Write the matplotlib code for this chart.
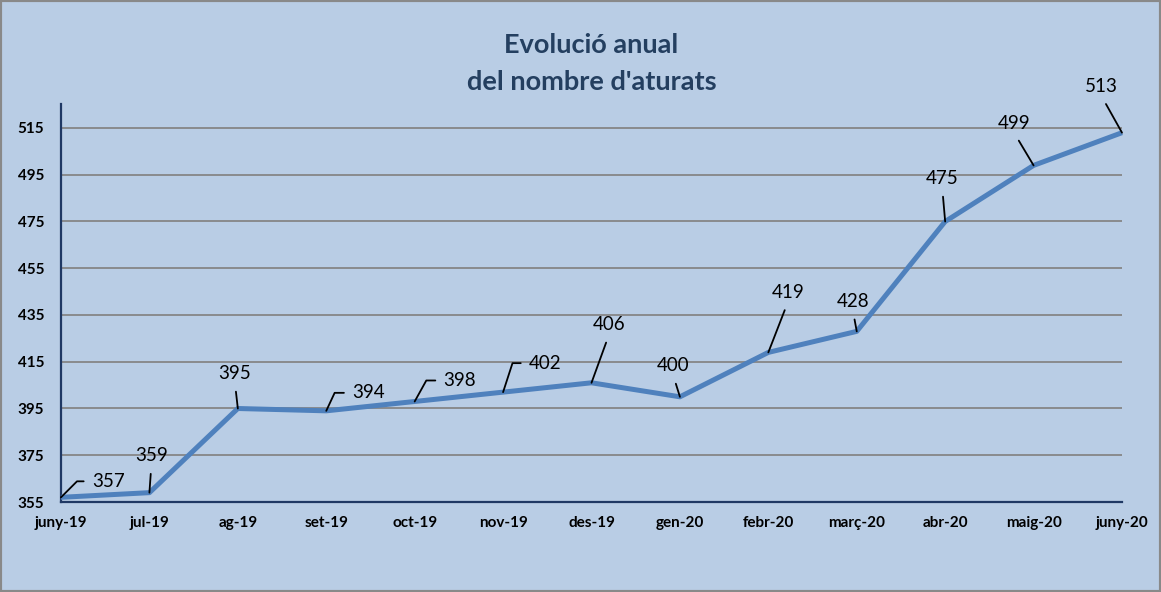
import matplotlib.pyplot as plt
from matplotlib.patches import Rectangle

# Chart data
months = ['juny-19', 'jul-19', 'ag-19', 'set-19', 'oct-19', 'nov-19', 'des-19',
          'gen-20', 'febr-20', 'març-20', 'abr-20', 'maig-20', 'juny-20']
unemployed = [357, 359, 395, 394, 398, 402, 406, 400, 419, 428, 475, 499, 513]
y_ticks = [355, 375, 395, 415, 435, 455, 475, 495, 515]
title_lines = ["Evolució anual", "del nombre d'aturats"]

# Data label placement (offset from the point, in pixels)
label_offsets = [(31, 16), (2, 37), (-3, 35), (26, 18), (29, 21), (26, 29), (18, 58),
                 (-7, 31), (20, 60), (-4, 30), (-3, 43), (-20, 42), (-21, 46)]
# labels drawn with an elbow leader: index -> angle of the slanted piece
elbow_angles = {0: 45, 3: 65, 4: 61, 5: 72}

BG = '#B9CDE5'
LINE = '#4F81BD'
GRID = '#868686'
SPINE = '#1F3864'
TITLE = '#243F60'
FONT = 'Lato'

W, H = 1161, 592
fig = plt.figure(figsize=(W / 100, H / 100), dpi=100, facecolor=BG)

# Axes box measured in pixels: left 61, right 1122, top 104, bottom 502
ax = fig.add_axes([61 / W, (H - 502) / H, (1122 - 61) / W, (502 - 104) / H])
ax.set_facecolor(BG)

x = list(range(len(months)))
ax.plot(x, unemployed, color=LINE, lw=3.6, solid_joinstyle='round',
        solid_capstyle='butt', clip_on=False, zorder=3)

# 20 units span 374 px between the 355 and 515 gridlines
ax.set_xlim(0, len(months) - 1)
ax.set_ylim(355, 355 + 160 * (502 - 104) / (502 - 128))
ax.set_yticks(y_ticks)
ax.set_xticks(x)
ax.set_xticklabels(months)

for yv in y_ticks[1:]:
    ax.axhline(yv, color=GRID, lw=1.3, zorder=1)

for side in ['top', 'right']:
    ax.spines[side].set_visible(False)
for side in ['left', 'bottom']:
    ax.spines[side].set_color(SPINE)
    ax.spines[side].set_linewidth(1.6)
    ax.spines[side].set_zorder(2)

ax.tick_params(axis='both', length=0, labelsize=11, labelcolor='black')
ax.tick_params(axis='y', pad=12)
ax.tick_params(axis='x', pad=10)
for lab in ax.get_xticklabels() + ax.get_yticklabels():
    lab.set_fontfamily(FONT)
    lab.set_fontweight('bold')

# Data labels with leader lines
for i, v in enumerate(unemployed):
    dx, dy = label_offsets[i]
    if i in elbow_angles:
        ax.annotate(str(v), xy=(i, v), xytext=(dx, dy), textcoords='offset pixels',
                    ha='left', va='center', fontsize=13.5, fontfamily=FONT,
                    annotation_clip=False,
                    arrowprops=dict(arrowstyle='-', color='black', lw=1.3,
                                    relpos=(0, 0.5), shrinkA=4, shrinkB=0,
                                    connectionstyle='angle,angleA=0,angleB=%d,rad=0' % elbow_angles[i]))
    else:
        ax.annotate(str(v), xy=(i, v), xytext=(dx, dy), textcoords='offset pixels',
                    ha='center', va='center', fontsize=13.5, fontfamily=FONT,
                    annotation_clip=False,
                    arrowprops=dict(arrowstyle='-', color='black', lw=1.3,
                                    relpos=(0.5, 0), shrinkA=5, shrinkB=0))

# Title, centred over the plot area
fig.text(591.5 / W, 1 - 45 / H, title_lines[0], ha='center', va='center',
         fontsize=19.5, fontweight='bold', color=TITLE, fontfamily=FONT)
fig.text(591.5 / W, 1 - 82 / H, title_lines[1], ha='center', va='center',
         fontsize=19.5, fontweight='bold', color=TITLE, fontfamily=FONT)

# Grey chart border
fig.patches.append(Rectangle((0, 0), 1, 1, transform=fig.transFigure, fill=False,
                             edgecolor='#898989', lw=3))

fig.savefig('out.png', dpi=100, facecolor=BG)
